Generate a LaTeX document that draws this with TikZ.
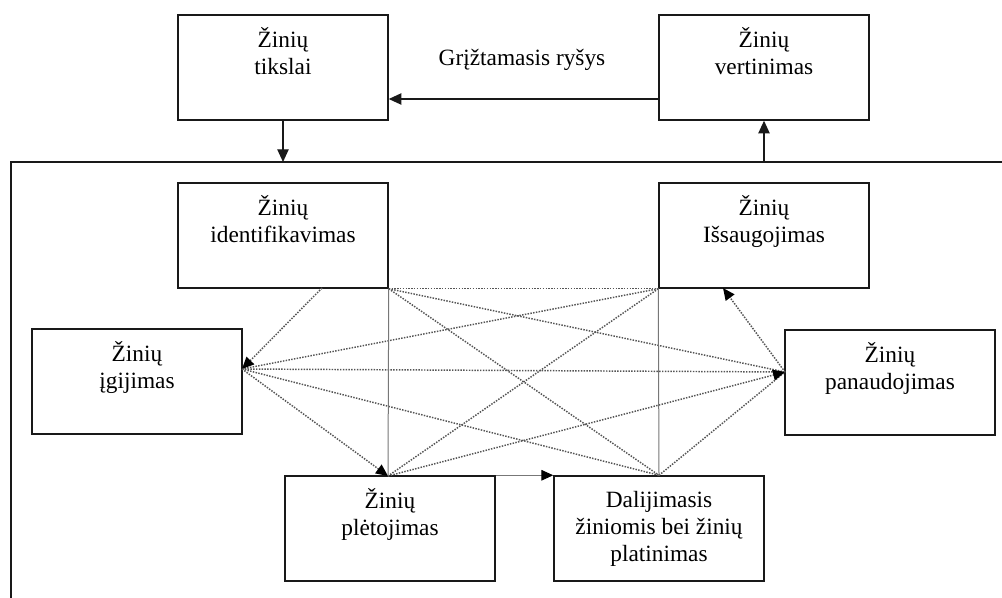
\documentclass[tikz,border=0pt]{standalone}
\usepackage{fontspec}
\setmainfont{Liberation Serif}
\usetikzlibrary{calc, positioning, arrows.meta}
\definecolor{LineGray}{RGB}{85, 85, 85}
\definecolor{FrameBlack}{RGB}{25, 25, 25}

\begin{document}
\begin{tikzpicture}[x=0.75pt, y=-0.75pt,
    caja/.style={draw=FrameBlack, line width=1.1pt, minimum width=157.5pt, minimum height=78.75pt, inner sep=0pt},
    texto/.style={anchor=north, align=center, inner sep=0pt, yshift=-10pt, font=\fontsize{17.5}{20.25}\selectfont},
    punteado/.style={densely dotted, LineGray, line width=1.1pt},
    fina/.style={LineGray!80, line width=0.75pt},
    punta/.style={-{Triangle[length=9pt, width=8pt, color=black]}},
    flecha/.style={FrameBlack, line width=1pt, -{Triangle[length=9.5pt, width=8.5pt]}}
]
    \useasboundingbox (0,0) rectangle (1002,598);

    % Cajas de arriba
    \node[caja] (tikslai) at (283,67.5) {};
    \node[texto] (tikslaiTxt) at (tikslai.north) {\strut Žinių\\tikslai};
    \node[caja] (vertinimas) at (764,67.5) {};
    \node[texto] (vertinimasTxt) at (vertinimas.north) {\strut Žinių\\vertinimas};

    % Marco grande (solo lados superior e izquierdo)
    \draw[FrameBlack, line width=1.1pt] (11,598) -- (11,162) -- (1002,162);
    \coordinate (marcoIn) at (283,162);
    \coordinate (marcoOut) at (764,162);

    % Retroalimentacion
    \draw[flecha] (tikslai.south) -- (marcoIn);
    \draw[flecha] (marcoOut) -- (vertinimas.south);
    \draw[flecha] (vertinimas.west |- 0,99) -- (tikslai.east |- 0,99);
    \node[font=\fontsize{17.5}{20.25}\selectfont] (grizt) at (522,60) {Grįžtamasis ryšys};

    % Cajas del ciclo
    \node[caja] (identifikavimas) at (283,235.5) {};
    \node[texto] (identifikavimasTxt) at (identifikavimas.north) {\strut Žinių\\identifikavimas};
    \node[caja] (issaugojimas) at (764,235.5) {};
    \node[texto] (issaugojimasTxt) at (issaugojimas.north) {\strut Žinių\\Išsaugojimas};
    \node[caja] (igijimas) at (137,381.5) {};
    \node[texto] (igijimasTxt) at (igijimas.north) {\strut Žinių\\įgijimas};
    \node[caja] (panaudojimas) at (890,382.5) {};
    \node[texto] (panaudojimasTxt) at (panaudojimas.north) {\strut Žinių\\panaudojimas};
    \node[caja] (pletojimas) at (390,528.5) {};
    \node[texto] (pletojimasTxt) at (pletojimas.north) {\strut Žinių\\plėtojimas};
    \node[caja] (dalijimasis) at (659,528.5) {};
    \node[texto] (dalijimasisTxt) at (dalijimasis.north) {\strut Dalijimasis\\žiniomis bei žinių\\platinimas};

    % Puntos de conexion
    \coordinate (idA) at (identifikavimas.south east);
    \coordinate (idB) at (322,288);
    \coordinate (isA) at (issaugojimas.south west);
    \coordinate (isB) at (723,288);
    \coordinate (igA) at (242,369);
    \coordinate (paA) at (785,372);
    \coordinate (plA) at (388,476);
    \coordinate (daA) at (dalijimasis.north);

    % Lineas punteadas
    \draw[punteado] (idA) -- (isA);
    \draw[punteado] (idA) -- (paA);
    \draw[punteado] (idA) -- (daA);
    \draw[punteado] (isA) -- (igA);
    \draw[punteado] (isA) -- (plA);
    \draw[punteado] (igA) -- (paA);
    \draw[punteado] (igA) -- (daA);
    \draw[punteado] (daA) -- (paA);
    \draw[punteado, punta] (idB) -- (igA);
    \draw[punteado, punta] (igA) -- (plA);
    \draw[punteado, punta] (plA) -- (paA);
    \draw[punteado, punta] (paA) -- (isB);

    % Lineas finas
    \draw[fina] (idA) -- (plA);
    \draw[fina] (isA) -- (daA);
    \draw[fina, punta] (pletojimas.north east) -- (dalijimasis.north west);
\end{tikzpicture}
\end{document}
